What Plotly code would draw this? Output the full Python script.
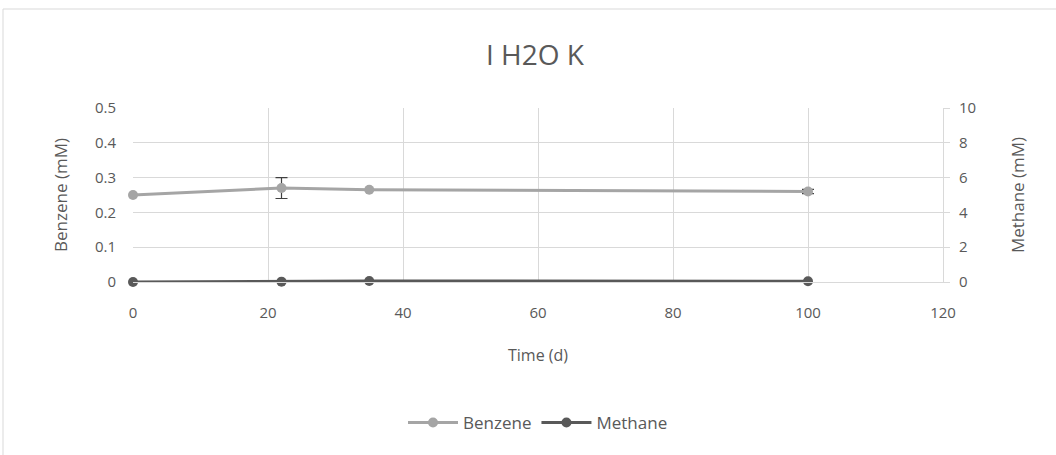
import plotly.graph_objects as go

# Sampling times (days)
time_d = [0, 22, 35, 100]

# Benzene concentration (mM) with standard deviation
benzene = [0.25, 0.27, 0.265, 0.26]
benzene_err = [0.0, 0.03, 0.0, 0.006]

# Methane concentration (mM)
methane = [0.0, 0.02, 0.06, 0.04]

x_ticks = [0, 20, 40, 60, 80, 100, 120]
benz_ticks = [0, 0.1, 0.2, 0.3, 0.4, 0.5]
meth_ticks = [0, 2, 4, 6, 8, 10]

FONT = "Open Sans"
TXT = "#595959"
GRID = "#d9d9d9"

fig = go.Figure()

fig.add_trace(go.Scatter(
    x=time_d, y=benzene, name="Benzene", mode="lines+markers",
    line=dict(color="#a5a5a5", width=3),
    marker=dict(color="#a5a5a5", size=10),
    error_y=dict(type="data", array=benzene_err, visible=True,
                 color="#404040", thickness=1.2, width=6),
    yaxis="y", cliponaxis=False,
))

fig.add_trace(go.Scatter(
    x=time_d, y=methane, name="Methane", mode="lines+markers",
    line=dict(color="#595959", width=3),
    marker=dict(color="#595959", size=10),
    yaxis="y2", cliponaxis=False,
))

L, R, T, B = 133, 113, 108, 173
W, H = 1056, 455
pw, ph = W - L - R, H - T - B

fig.update_layout(
    width=W, height=H,
    margin=dict(l=L, r=R, t=T, b=B),
    paper_bgcolor="white", plot_bgcolor="white",
    font=dict(family=FONT, color=TXT, size=15),
    title=dict(text="I H2O K", x=535 / W, xanchor="center",
               y=1 - 55 / H, yanchor="middle",
               font=dict(family=FONT, size=28, color=TXT)),
    xaxis=dict(
        range=[0, 120], tickvals=x_ticks, showgrid=True, gridcolor=GRID,
        gridwidth=1, zeroline=False, showline=True, linecolor=GRID,
        linewidth=1, ticks="", ticklabelstandoff=17,
        tickfont=dict(size=15, color=TXT),
        title=dict(text="Time (d)", font=dict(size=16, color=TXT), standoff=28),
    ),
    yaxis=dict(
        range=[0, 0.5], tickvals=benz_ticks, showgrid=True, gridcolor=GRID,
        gridwidth=1, zeroline=False, showline=False, ticks="",
        ticklabelstandoff=16,
        tickfont=dict(size=15, color=TXT),
        title=dict(text="Benzene (mM)", font=dict(size=17, color=TXT), standoff=22),
    ),
    yaxis2=dict(
        range=[0, 10], tickvals=meth_ticks, overlaying="y", side="right",
        showgrid=False, zeroline=False, showline=True, linecolor=GRID,
        linewidth=1, ticks="outside", ticklen=6, tickcolor=GRID,
        ticklabelstandoff=6,
        tickfont=dict(size=15, color=TXT),
        title=dict(text="Methane (mM)", font=dict(size=17, color=TXT), standoff=36),
    ),
    legend=dict(orientation="h", x=0.5, xanchor="center",
                y=(282 - 423) / ph, yanchor="middle",
                font=dict(size=17, color=TXT), bgcolor="rgba(0,0,0,0)",
                itemwidth=50, traceorder="normal"),
    shapes=[dict(type="rect", xref="paper", yref="paper",
                 x0=(3 - L) / pw, x1=(W + 20 - L) / pw,
                 y0=-(H + 20 - 282) / ph, y1=(282 - 9) / ph,
                 line=dict(color=GRID, width=1), layer="below")],
)

fig.write_html("out.html")
